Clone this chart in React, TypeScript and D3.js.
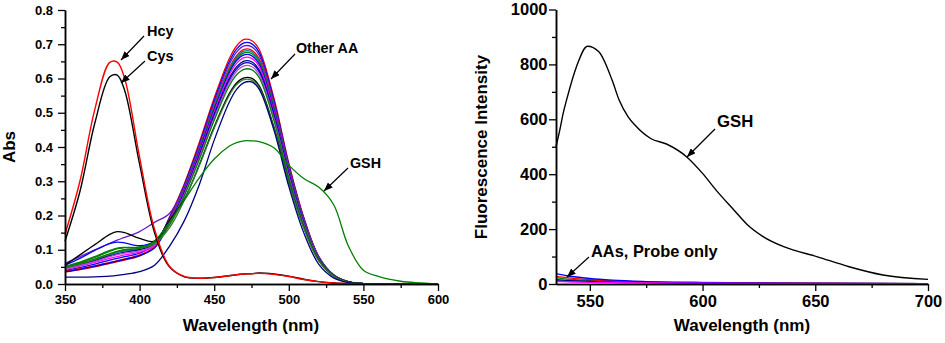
// Absorbance (left) and fluorescence (right) spectra of the probe with amino acids
import * as d3 from 'd3';
import React, { useRef, useEffect } from 'react';

// ---- left panel: UV-vis, all curves sampled on the same wavelength grid ----
const absWl = [350, 360, 370, 380, 385, 390, 400, 410, 420, 430, 440, 450, 460, 465, 470, 475, 480, 490, 500, 510, 520, 530, 540, 550, 560, 575, 600];

const aa1 = [0.035, 0.042, 0.05, 0.06, 0.065, 0.07, 0.082, 0.11, 0.195, 0.293, 0.413, 0.543, 0.657, 0.695, 0.714, 0.711, 0.686, 0.543, 0.353, 0.195, 0.081, 0.027, 0.007, 0.001, 0, 0, 0];
const aa2 = [0.04, 0.048, 0.058, 0.07, 0.075, 0.08, 0.09, 0.115, 0.193, 0.289, 0.407, 0.536, 0.648, 0.686, 0.704, 0.702, 0.677, 0.536, 0.348, 0.193, 0.08, 0.027, 0.006, 0.001, 0, 0, 0];
const aa3 = [0.06, 0.08, 0.1, 0.119, 0.128, 0.136, 0.153, 0.18, 0.206, 0.286, 0.402, 0.529, 0.64, 0.677, 0.695, 0.693, 0.669, 0.529, 0.344, 0.19, 0.079, 0.026, 0.006, 0.001, 0, 0, 0];
const aa4 = [0.038, 0.045, 0.053, 0.063, 0.068, 0.073, 0.085, 0.108, 0.188, 0.281, 0.396, 0.521, 0.63, 0.667, 0.685, 0.683, 0.659, 0.521, 0.339, 0.188, 0.078, 0.026, 0.006, 0.001, 0, 0, 0];
const aa5 = [0.048, 0.058, 0.07, 0.085, 0.092, 0.097, 0.102, 0.12, 0.186, 0.279, 0.393, 0.518, 0.626, 0.662, 0.68, 0.678, 0.654, 0.518, 0.336, 0.186, 0.078, 0.026, 0.006, 0.001, 0, 0, 0];
const aa6 = [0.05, 0.062, 0.078, 0.095, 0.103, 0.106, 0.108, 0.125, 0.185, 0.277, 0.39, 0.514, 0.621, 0.657, 0.675, 0.673, 0.649, 0.514, 0.334, 0.185, 0.077, 0.026, 0.006, 0.001, 0, 0, 0];
const aa7 = [0.055, 0.075, 0.098, 0.118, 0.122, 0.12, 0.112, 0.125, 0.183, 0.275, 0.387, 0.509, 0.616, 0.652, 0.669, 0.667, 0.643, 0.509, 0.331, 0.183, 0.076, 0.025, 0.006, 0.001, 0, 0, 0];
const aa8 = [0.042, 0.052, 0.063, 0.075, 0.08, 0.085, 0.093, 0.112, 0.181, 0.272, 0.382, 0.503, 0.609, 0.644, 0.661, 0.659, 0.636, 0.503, 0.327, 0.181, 0.075, 0.025, 0.006, 0.001, 0, 0, 0];
const aa9 = [0.045, 0.056, 0.068, 0.082, 0.088, 0.093, 0.1, 0.117, 0.178, 0.268, 0.377, 0.496, 0.6, 0.634, 0.651, 0.649, 0.626, 0.496, 0.322, 0.178, 0.074, 0.025, 0.006, 0.001, 0, 0, 0];
const aa10 = [0.036, 0.043, 0.052, 0.062, 0.067, 0.072, 0.083, 0.105, 0.177, 0.265, 0.373, 0.491, 0.594, 0.628, 0.645, 0.643, 0.621, 0.491, 0.319, 0.177, 0.074, 0.025, 0.006, 0.001, 0, 0, 0];
const aa11 = [0.044, 0.054, 0.066, 0.08, 0.086, 0.09, 0.097, 0.114, 0.175, 0.262, 0.369, 0.485, 0.587, 0.621, 0.637, 0.635, 0.613, 0.485, 0.315, 0.175, 0.073, 0.024, 0.006, 0.001, 0, 0, 0];
const aa12 = [0.052, 0.064, 0.08, 0.098, 0.105, 0.107, 0.107, 0.12, 0.172, 0.258, 0.363, 0.478, 0.578, 0.611, 0.627, 0.626, 0.604, 0.478, 0.31, 0.172, 0.072, 0.024, 0.006, 0.001, 0, 0, 0];
const aa13 = [0.055, 0.085, 0.115, 0.145, 0.153, 0.15, 0.133, 0.125, 0.185, 0.248, 0.348, 0.459, 0.555, 0.587, 0.602, 0.601, 0.58, 0.459, 0.298, 0.165, 0.069, 0.023, 0.006, 0.001, 0, 0, 0];
const aa14 = [0.047, 0.058, 0.072, 0.088, 0.095, 0.1, 0.104, 0.118, 0.164, 0.245, 0.345, 0.455, 0.55, 0.582, 0.597, 0.595, 0.575, 0.455, 0.295, 0.164, 0.068, 0.023, 0.005, 0.001, 0, 0, 0];
const aa15 = [0.02, 0.02, 0.021, 0.023, 0.025, 0.028, 0.036, 0.055, 0.11, 0.185, 0.29, 0.42, 0.53, 0.568, 0.588, 0.59, 0.57, 0.45, 0.285, 0.15, 0.058, 0.018, 0.004, 0, 0, 0, 0];
const otherAA = [aa1, aa2, aa3, aa4, aa5, aa6, aa7, aa8, aa9, aa10, aa11, aa12, aa13, aa14, aa15];
const otherColors = ['#ff0000', '#0000ff', '#6a1bc8', '#ff0000', '#008080', '#008000', '#0000ff', '#ff00ff', '#000080', '#0000cc', '#c040e0', '#008000', '#000000', '#2f7f2f', '#000080'];

const gshAbs = [0.05, 0.06, 0.073, 0.088, 0.095, 0.1, 0.105, 0.125, 0.18, 0.245, 0.31, 0.365, 0.402, 0.413, 0.418, 0.418, 0.416, 0.398, 0.347, 0.308, 0.283, 0.232, 0.11, 0.04, 0.022, 0.008, 0];
const cysAbs = [0.125, 0.27, 0.47, 0.605, 0.61, 0.565, 0.35, 0.15, 0.05, 0.021, 0.017, 0.019, 0.024, 0.027, 0.029, 0.03, 0.032, 0.029, 0.023, 0.014, 0.007, 0.003, 0.001, 0, 0, 0, 0];
const hcyAbs = [0.145, 0.3, 0.51, 0.647, 0.648, 0.6, 0.37, 0.16, 0.052, 0.022, 0.017, 0.019, 0.024, 0.027, 0.029, 0.03, 0.031, 0.028, 0.022, 0.013, 0.007, 0.003, 0.001, 0, 0, 0, 0];

// ---- right panel: fluorescence ----
const gshWl = [535, 537, 538, 540, 544, 549, 554, 560, 563, 567, 570, 577, 584, 593, 600, 606, 614, 620, 627, 636, 651, 665, 680, 700];
const gshFl = [500, 573, 615, 680, 790, 866, 846, 740, 670, 609, 579, 530, 510, 463, 403, 342, 269, 215, 172, 136, 99, 63, 33, 17];

const lowWl = [535, 540, 550, 560, 575, 600, 650, 700];
const flBlue = [38, 30, 20, 14, 9, 5, 2, 1];
const flRed = [28, 23, 16, 11, 7, 4, 2, 1];
const flGreen = [22, 18, 13, 10, 8, 6, 3, 1];
const flPurple = [12, 10, 8, 6, 5, 3, 2, 1];
const flNavy = [16, 13, 10, 8, 6, 4, 2, 1];
const flMagenta = [9, 8, 6, 5, 4, 3, 2, 1];
const probeOnly = [flGreen, flPurple, flNavy, flRed, flBlue, flMagenta];
const probeColors = ['#008000', '#6a1bc8', '#000080', '#ff0000', '#0000ff', '#ff00ff'];

const absMajor = [0, 0.1, 0.2, 0.3, 0.4, 0.5, 0.6, 0.7, 0.8];
const absMinor = [0.05, 0.15, 0.25, 0.35, 0.45, 0.55, 0.65, 0.75];
const leftXMajor = [350, 400, 450, 500, 550, 600];
const leftXMinor = [375, 425, 475, 525, 575];
const flMajor = [0, 200, 400, 600, 800, 1000];
const flMinor = [100, 300, 500, 700, 900];
const rightXMajor = [550, 600, 650, 700];
const rightXMinor = [575, 625, 675];

const FONT = '"Liberation Sans", Arial, sans-serif';

function styleAxis(g, fs) {
    g.selectAll('path.domain').attr('stroke', '#000').attr('stroke-width', 1.5);
    g.selectAll('line').attr('stroke', '#000').attr('stroke-width', 1.3);
    g.selectAll('text')
        .attr('font-size', fs)
        .attr('font-weight', 'bold')
        .attr('font-family', FONT)
        .attr('fill', '#000');
}

function drawAxes(svg, x, y, xMaj, xMin, yMaj, yMin, yFmt, fs, pad) {
    const y0 = y.range()[0];
    const x0 = x.range()[0];
    styleAxis(svg.append('g').attr('transform', 'translate(0,' + y0 + ')')
        .call(d3.axisBottom(x).tickValues(xMin).tickSize(4).tickSizeOuter(0).tickFormat(() => '')), fs);
    styleAxis(svg.append('g').attr('transform', 'translate(0,' + y0 + ')')
        .call(d3.axisBottom(x).tickValues(xMaj).tickSize(7).tickSizeOuter(0).tickPadding(4).tickFormat(d3.format('d'))), fs);
    styleAxis(svg.append('g').attr('transform', 'translate(' + x0 + ',0)')
        .call(d3.axisLeft(y).tickValues(yMin).tickSize(4).tickSizeOuter(0).tickFormat(() => '')), fs);
    styleAxis(svg.append('g').attr('transform', 'translate(' + x0 + ',0)')
        .call(d3.axisLeft(y).tickValues(yMaj).tickSize(7).tickSizeOuter(0).tickPadding(pad).tickFormat(yFmt)), fs);
}

function App() {
    const ref = useRef(null);

    useEffect(() => {
        const svg = d3.select(ref.current);
        svg.selectAll('*').remove();

        svg.append('defs').append('marker')
            .attr('id', 'ah')
            .attr('viewBox', '0 0 10 8')
            .attr('refX', 10).attr('refY', 4)
            .attr('markerWidth', 9).attr('markerHeight', 7)
            .attr('markerUnits', 'userSpaceOnUse')
            .attr('orient', 'auto')
            .append('path').attr('d', 'M0,0L10,4L0,8Z').attr('fill', '#000');

        // ---------- left: Abs ----------
        const xL = d3.scaleLinear().domain([350, 600]).range([65, 438]);
        const yL = d3.scaleLinear().domain([0, 0.8]).range([284, 10]);
        const lineL = d3.line()
            .x((d, i) => xL(absWl[i]))
            .y(d => yL(d))
            .curve(d3.curveCatmullRom.alpha(0.5));

        const gL = svg.append('g');
        otherAA.forEach((vals, i) => {
            gL.append('path').attr('d', lineL(vals)).attr('fill', 'none')
                .attr('stroke', otherColors[i]).attr('stroke-width', 1.3);
        });
        gL.append('path').attr('d', lineL(gshAbs)).attr('fill', 'none').attr('stroke', '#008000').attr('stroke-width', 1.3);
        gL.append('path').attr('d', lineL(cysAbs)).attr('fill', 'none').attr('stroke', '#000').attr('stroke-width', 1.4);
        gL.append('path').attr('d', lineL(hcyAbs)).attr('fill', 'none').attr('stroke', '#ff0000').attr('stroke-width', 1.4);

        drawAxes(svg, xL, yL, leftXMajor, leftXMinor, absMajor, absMinor, d3.format('.1f'), 13, 5);

        // ---------- right: fluorescence ----------
        const xR = d3.scaleLinear().domain([535, 700]).range([556, 928]);
        const yR = d3.scaleLinear().domain([0, 1000]).range([284, 9.5]);
        const lineLow = d3.line()
            .x((d, i) => xR(lowWl[i]))
            .y(d => yR(d))
            .curve(d3.curveMonotoneX);
        const gR = svg.append('g');
        probeOnly.forEach((vals, i) => {
            gR.append('path').attr('d', lineLow(vals)).attr('fill', 'none')
                .attr('stroke', probeColors[i]).attr('stroke-width', 1.3);
        });
        const lineGsh = d3.line()
            .x((d, i) => xR(gshWl[i]))
            .y(d => yR(d))
            .curve(d3.curveMonotoneX);
        gR.append('path').attr('d', lineGsh(gshFl)).attr('fill', 'none').attr('stroke', '#000').attr('stroke-width', 1.4);

        drawAxes(svg, xR, yR, rightXMajor, rightXMinor, flMajor, flMinor, d3.format('d'), 16.5, 1.5);

        // ---------- axis titles ----------
        const title = (x, y, txt, rot) => {
            const t = svg.append('text')
                .attr('x', x).attr('y', y)
                .attr('text-anchor', 'middle')
                .attr('font-family', FONT).attr('font-weight', 'bold').attr('font-size', 17)
                .text(txt);
            if (rot) t.attr('transform', 'rotate(-90,' + x + ',' + y + ')');
        };
        title(251, 331, 'Wavelength (nm)', false);
        title(742, 331, 'Wavelength (nm)', false);
        title(15, 147, 'Abs', true);
        title(487, 147, 'Fluorescence Intensity', true);

        // ---------- annotations with arrows ----------
        const notes = [
            { t: 'Hcy', x: 147, y: 36, fs: 14.5, a: [144, 36, 121, 60] },
            { t: 'Cys', x: 147, y: 61, fs: 14.5, a: [145, 61, 121, 83] },
            { t: 'Other AA', x: 296, y: 53, fs: 14.3, a: [295, 54, 271, 79] },
            { t: 'GSH', x: 350, y: 168, fs: 14.3, a: [348, 168, 324, 191] },
            { t: 'GSH', x: 717, y: 127, fs: 16.8, a: [715, 129, 687, 157] },
            { t: 'AAs, Probe only', x: 591, y: 257, fs: 16.4, a: [589, 257, 567, 277] }
        ];
        notes.forEach(n => {
            svg.append('text').attr('x', n.x).attr('y', n.y)
                .attr('font-family', FONT).attr('font-weight', 'bold').attr('font-size', n.fs)
                .text(n.t);
            svg.append('line')
                .attr('x1', n.a[0]).attr('y1', n.a[1]).attr('x2', n.a[2]).attr('y2', n.a[3])
                .attr('stroke', '#000').attr('stroke-width', 1.2)
                .attr('marker-end', 'url(#ah)');
        });
    }, []);

    return (
        <svg ref={ref} width={945} height={343}
            style={{ position: 'absolute', left: 0, top: 0, background: '#fff' }}>
        </svg>
    );
}

export default App;
